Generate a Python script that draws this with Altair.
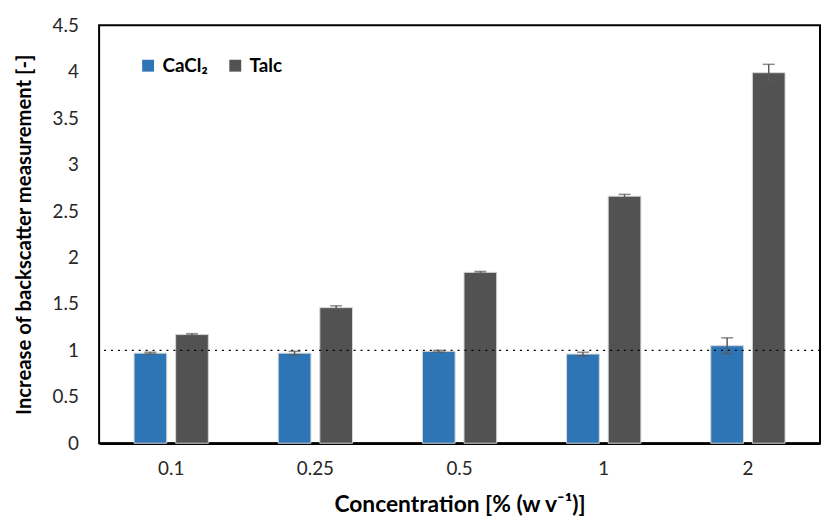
import altair as alt
import pandas as pd

conc = ["0.1", "0.25", "0.5", "1", "2"]
series = ["CaCl₂", "Talc"]
cacl2 = [0.97, 0.97, 0.99, 0.96, 1.05]
cacl2_err = [0.01, 0.02, 0.01, 0.02, 0.085]
talc = [1.17, 1.46, 1.84, 2.66, 3.99]
talc_err = [0.01, 0.02, 0.01, 0.02, 0.09]
colors = ["#2E75B6", "#525252"]
y_ticks = [0, 0.5, 1, 1.5, 2, 2.5, 3, 3.5, 4, 4.5]

rows = []
for i, c in enumerate(conc):
    rows.append({"conc": c, "series": series[0], "value": cacl2[i], "err": cacl2_err[i]})
    rows.append({"conc": c, "series": series[1], "value": talc[i], "err": talc_err[i]})
df = pd.DataFrame(rows)

FONT = "Lato"

x = alt.X("conc:N", sort=conc,
          scale=alt.Scale(paddingInner=0.423, paddingOuter=0.2115),
          axis=alt.Axis(title="Concentration [% (w v⁻¹)]", labelAngle=0, ticks=False,
                        labelPadding=17, titlePadding=15, domainWidth=2.5,
                        domainColor="black", titleFontSize=23))
xoff = alt.XOffset("series:N", sort=series,
                   scale=alt.Scale(paddingInner=0.214, paddingOuter=0.107))
y = alt.Y("value:Q",
          scale=alt.Scale(domain=[0, 4.5], nice=False),
          axis=alt.Axis(title="Increase of backscatter measurement [-]", values=y_ticks,
                        ticks=False, grid=False, domain=False, labelPadding=21,
                        titlePadding=18, format="~g", titleFontSize=20.5))

base = alt.Chart(df)

bars = base.mark_bar(stroke="#d6d6d6", strokeWidth=1).encode(
    x=x, xOffset=xoff, y=y,
    color=alt.Color("series:N", sort=series,
                    scale=alt.Scale(domain=series, range=colors),
                    legend=alt.Legend(title=None, orient="none", legendX=40, legendY=31,
                                      direction="horizontal", symbolType="square",
                                      symbolSize=144, symbolStrokeWidth=0,
                                      labelFontSize=19, labelFontWeight="bold",
                                      labelColor="black", labelFont=FONT,
                                      columnPadding=18, labelOffset=5, padding=0))
)

err_base = base.transform_calculate(
    lo="datum.value - datum.err", hi="datum.value + datum.err")

rules = err_base.mark_rule(color="#595959", strokeWidth=1.5).encode(
    x=x, xOffset=xoff, y="lo:Q", y2="hi:Q")
caps_hi = err_base.mark_tick(color="#595959", thickness=1.5, size=12).encode(
    x=x, xOffset=xoff, y="hi:Q")
caps_lo = err_base.mark_tick(color="#595959", thickness=1.5, size=12).encode(
    x=x, xOffset=xoff, y="lo:Q")

ref = alt.Chart(pd.DataFrame({"v": [1]})).mark_rule(
    color="black", strokeWidth=1.5, strokeDash=[2, 5]).encode(y=alt.Y("v:Q"))

chart = alt.layer(bars, ref, rules, caps_hi, caps_lo).properties(
    width=728, height=422,
    autosize=alt.AutoSizeParams(type="none"),
    padding={"left": 92, "top": 15, "right": 1, "bottom": 75},
).configure_view(stroke="black", strokeWidth=2).configure_axis(
    labelFont=FONT, titleFont=FONT, labelFontSize=19,
    labelColor="#262626", titleColor="black", titleFontWeight="bold"
)

chart.save("out.html", embed_options={"renderer": "svg", "actions": False})
